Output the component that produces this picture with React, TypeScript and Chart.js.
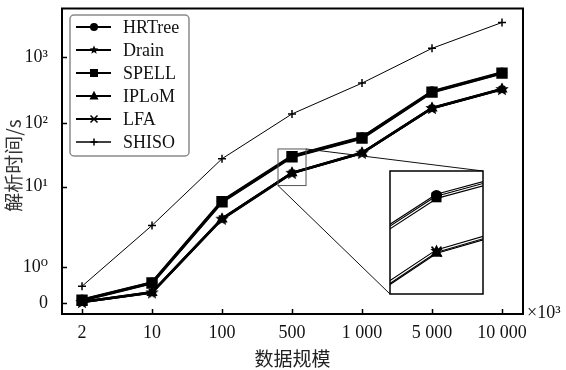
import React, { useEffect, useRef } from "react";
import { Chart, registerables } from "chart.js";

Chart.register(...registerables);

// ---------- data ----------
const categories = ["2", "10", "100", "500", "1 000", "5 000", "10 000"];
const seriesNames = ["HRTree", "Drain", "SPELL", "IPLoM", "LFA", "SHISO"];
const hrtree = [0.09, 0.57, 6.6, 30, 59, 300, 580];
const drain = [0.03, 0.3, 4.0, 16.5, 34, 169, 328];
const spell = [0.08, 0.56, 6.5, 29.4, 58, 295, 573];
const iplom = [0.03, 0.29, 3.95, 16.3, 33.6, 167, 325];
const lfa = [0.03, 0.3, 4.0, 16.4, 33.8, 168, 327];
const shiso = [0.47, 3.3, 27.4, 137, 404, 1368, 3390];

const yTickValues = [0, 1, 10, 100, 1000];
const yTickLabels = ["0", "10⁰", "10¹", "10²", "10³"];
// broken axis: position of each tick value in axis units
const yTickPos = [0, 0.554, 1.8, 2.785, 3.8];
const xUnitLabel = "×10³";
const xTitle = "数据规模";
const yTitle = "解析时间/s  ";
// zoomed region (category index range, value range)
const insetXRange = [2.8, 3.2];
const insetYRange = [10.4, 39];

const SERIF = "'Liberation Serif', 'Times New Roman', 'DejaVu Serif', serif";
const CJK = "'Noto Sans CJK SC', 'Liberation Serif', serif";

function toUnit(v: number): number {
  if (v <= 1) return v * yTickPos[1];
  let i = 1;
  while (i < yTickValues.length - 2 && v > yTickValues[i + 1]) i++;
  const a = Math.log10(yTickValues[i]);
  const b = Math.log10(yTickValues[i + 1]);
  return yTickPos[i] + ((Math.log10(v) - a) / (b - a)) * (yTickPos[i + 1] - yTickPos[i]);
}

function starPath(ctx: CanvasRenderingContext2D, x: number, y: number, R: number, r: number) {
  for (let k = 0; k < 10; k++) {
    const rad = k % 2 === 0 ? R : r;
    const ang = -Math.PI / 2 + (k * Math.PI) / 5;
    const px = x + rad * Math.cos(ang);
    const py = y + rad * Math.sin(ang);
    if (k === 0) ctx.moveTo(px, py);
    else ctx.lineTo(px, py);
  }
  ctx.closePath();
}

function makeStarCanvas(R: number) {
  const c = document.createElement("canvas");
  const size = Math.ceil(2 * R + 2);
  c.width = size;
  c.height = size;
  const ctx = c.getContext("2d")!;
  ctx.fillStyle = "#000";
  ctx.beginPath();
  starPath(ctx, size / 2, size / 2 + 0.5, R, R * 0.45);
  ctx.fill();
  return c;
}

function drawMarker(ctx: CanvasRenderingContext2D, kind: string, x: number, y: number, s: number) {
  ctx.save();
  ctx.fillStyle = "#000";
  ctx.strokeStyle = "#000";
  ctx.lineWidth = 1.5;
  ctx.beginPath();
  switch (kind) {
    case "circle":
      ctx.arc(x, y, s, 0, Math.PI * 2);
      ctx.fill();
      break;
    case "rect":
      ctx.fillRect(x - s, y - s, 2 * s, 2 * s);
      break;
    case "triangle":
      ctx.moveTo(x, y - s * 1.15);
      ctx.lineTo(x + s, y + s * 0.75);
      ctx.lineTo(x - s, y + s * 0.75);
      ctx.closePath();
      ctx.fill();
      break;
    case "star":
      starPath(ctx, x, y, s, s * 0.45);
      ctx.fill();
      break;
    case "crossRot":
      ctx.moveTo(x - s, y - s);
      ctx.lineTo(x + s, y + s);
      ctx.moveTo(x + s, y - s);
      ctx.lineTo(x - s, y + s);
      ctx.stroke();
      break;
    case "cross":
      ctx.moveTo(x - s, y);
      ctx.lineTo(x + s, y);
      ctx.moveTo(x, y - s);
      ctx.lineTo(x, y + s);
      ctx.stroke();
      break;
  }
  ctx.restore();
}

const seriesValues = [hrtree, drain, spell, iplom, lfa, shiso];
const markerKinds = ["circle", "star", "rect", "triangle", "crossRot", "cross"];
const lineWidths = [3, 2.5, 3, 2.5, 2.5, 1];
const pointRadii = [4.5, 6, 7, 5, 4.5, 4];
const drawOrder = [2, 1, 0, 3, 4, 5];
const legendMarkerSize = [4, 4.5, 4, 4.5, 3.5, 3.5];
const insetMarkerSize = [5.5, 6.5, 5, 6, 5, 4];

const decorPlugin = {
  id: "decor",
  afterDraw(chart: any) {
    const ctx: CanvasRenderingContext2D = chart.ctx;
    const area = chart.chartArea;
    const xs = chart.scales.x;
    const ys = chart.scales.y;
    ctx.save();

    // frame
    ctx.strokeStyle = "#000";
    ctx.lineWidth = 2;
    ctx.strokeRect(area.left, area.top, area.right - area.left, area.bottom - area.top);

    // inward ticks
    ctx.lineWidth = 1.5;
    ctx.beginPath();
    categories.forEach((_, i) => {
      const px = Math.round(xs.getPixelForValue(i)) + 0.5;
      ctx.moveTo(px, area.bottom);
      ctx.lineTo(px, area.bottom - 5);
    });
    yTickPos.forEach((u) => {
      const py = Math.round(ys.getPixelForValue(u)) + 0.5;
      ctx.moveTo(area.left, py);
      ctx.lineTo(area.left + 5, py);
    });
    ctx.stroke();

    // unit label
    ctx.fillStyle = "#111";
    ctx.font = `18px ${SERIF}`;
    ctx.textAlign = "left";
    ctx.textBaseline = "middle";
    ctx.fillText(xUnitLabel, area.right + 4, area.bottom - 1);

    // zoom rectangle + inset
    const sx0 = xs.getPixelForValue(insetXRange[0]);
    const sx1 = xs.getPixelForValue(insetXRange[1]);
    const sy0 = ys.getPixelForValue(toUnit(insetYRange[1]));
    const sy1 = ys.getPixelForValue(toUnit(insetYRange[0]));
    const bx0 = 390, by0 = 171, bx1 = 483, by1 = 294;
    const kx = (bx1 - bx0) / (sx1 - sx0);
    const ky = (by1 - by0) / (sy1 - sy0);
    const mapX = (p: number) => bx0 + (p - sx0) * kx;
    const mapY = (p: number) => by0 + (p - sy0) * ky;

    ctx.strokeStyle = "#555";
    ctx.lineWidth = 1;
    ctx.strokeRect(sx0, sy0, sx1 - sx0, sy1 - sy0);
    ctx.strokeStyle = "#111";
    ctx.beginPath();
    ctx.moveTo(sx0, sy1);
    ctx.lineTo(bx0, by1);
    ctx.moveTo(sx1, sy0);
    ctx.lineTo(bx1, by0);
    ctx.stroke();

    ctx.fillStyle = "#fff";
    ctx.fillRect(bx0, by0, bx1 - bx0, by1 - by0);
    ctx.save();
    ctx.beginPath();
    ctx.rect(bx0, by0, bx1 - bx0, by1 - by0);
    ctx.clip();
    const order = [5, 4, 3, 0, 2, 1];
    order.forEach((di) => {
      const meta = chart.getDatasetMeta(di);
      const pts = meta.data.map((el: any) => [mapX(el.x), mapY(el.y)]);
      ctx.lineJoin = "round";
      [[3.4, "#000"], [1.2, "#fff"]].forEach(([w, c]) => {
        ctx.lineWidth = w as number;
        ctx.strokeStyle = c as string;
        ctx.beginPath();
        pts.forEach((p: number[], k: number) => (k === 0 ? ctx.moveTo(p[0], p[1]) : ctx.lineTo(p[0], p[1])));
        ctx.stroke();
      });
    });
    order.forEach((di) => {
      const meta = chart.getDatasetMeta(di);
      meta.data.forEach((el: any) => {
        drawMarker(ctx, markerKinds[di], mapX(el.x), mapY(el.y), insetMarkerSize[di]);
      });
    });
    ctx.restore();
    ctx.strokeStyle = "#000";
    ctx.lineWidth = 1.5;
    ctx.strokeRect(bx0, by0, bx1 - bx0, by1 - by0);

    // legend
    const lx0 = 70, ly0 = 15, lx1 = 189, ly1 = 156;
    ctx.fillStyle = "#fff";
    ctx.strokeStyle = "#8a8a8a";
    ctx.lineWidth = 1.5;
    ctx.beginPath();
    (ctx as any).roundRect(lx0, ly0, lx1 - lx0, ly1 - ly0, 4);
    ctx.fill();
    ctx.stroke();
    chart.data.datasets.forEach((ds: any, i: number) => {
      const y = 27 + i * 23;
      ctx.strokeStyle = "#000";
      ctx.lineWidth = i === 5 ? 1.3 : 2;
      ctx.beginPath();
      ctx.moveTo(76, y);
      ctx.lineTo(111, y);
      ctx.stroke();
      drawMarker(ctx, markerKinds[i], 94, y, legendMarkerSize[i]);
      ctx.fillStyle = "#111";
      ctx.font = `18px ${SERIF}`;
      ctx.textAlign = "left";
      ctx.textBaseline = "middle";
      ctx.fillText(ds.label, 123, y + 1);
    });

    ctx.restore();
  },
};

export default function App() {
  const ref = useRef<HTMLCanvasElement>(null);
  useEffect(() => {
    document.body.style.margin = "0";
    const canvas = ref.current!;
    const star = makeStarCanvas(7);
    const datasets = seriesNames.map((name, i) => ({
      label: name,
      data: seriesValues[i].map((v, k) => ({ x: k, y: toUnit(v) })),
      borderColor: "#000",
      backgroundColor: "#000",
      borderWidth: lineWidths[i],
      pointStyle: markerKinds[i] === "star" ? (star as any) : markerKinds[i],
      pointRadius: pointRadii[i],
      pointBackgroundColor: "#000",
      pointBorderColor: "#000",
      pointBorderWidth: 1.5,
      tension: 0,
      fill: false,
      order: drawOrder[i],
    }));

    const chart = new Chart(canvas, {
      type: "line",
      data: { datasets } as any,
      plugins: [decorPlugin],
      options: {
        responsive: false,
        animation: false,
        devicePixelRatio: 1,
        events: [],
        layout: { padding: { left: 0, top: 7, right: 43, bottom: 0 } },
        plugins: { legend: { display: false }, tooltip: { enabled: false } },
        scales: {
          x: {
            type: "linear",
            min: -0.286,
            max: 6.3,
            grid: { display: false },
            border: { display: false },
            afterBuildTicks: (s: any) => {
              s.ticks = categories.map((_, i) => ({ value: i }));
            },
            afterFit: (s: any) => {
              s.height = 56;
              s.paddingLeft = 0;
              s.paddingRight = 0;
            },
            ticks: {
              autoSkip: false,
              maxRotation: 0,
              padding: 0,
              color: "#111",
              font: { family: SERIF, size: 18 },
              callback: (v: any) => categories[Math.round(Number(v))],
            },
            title: {
              display: true,
              text: xTitle,
              color: "#222",
              font: { family: CJK, size: 19, lineHeight: 1.2 },
              padding: { top: 2, bottom: 0 },
            },
          },
          y: {
            type: "linear",
            min: -0.169,
            max: 4.554,
            grid: { display: false },
            border: { display: false },
            afterBuildTicks: (s: any) => {
              s.ticks = yTickPos.map((u) => ({ value: u }));
            },
            afterFit: (s: any) => {
              s.width = 62;
              s.paddingTop = 0;
              s.paddingBottom = 0;
            },
            ticks: {
              autoSkip: false,
              padding: 6,
              color: "#111",
              font: { family: SERIF, size: 18 },
              callback: (v: any) => {
                const idx = yTickPos.findIndex((u) => Math.abs(u - Number(v)) < 1e-6);
                return idx >= 0 ? yTickLabels[idx] : "";
              },
            },
            title: {
              display: true,
              text: yTitle,
              color: "#333",
              font: { family: CJK, size: 19, lineHeight: 1.2 },
              padding: { top: 2.6, bottom: 0 },
            },
          },
        },
      } as any,
    });
    return () => chart.destroy();
  }, []);
  return <canvas ref={ref} width={566} height={370} style={{ display: "block", width: 566, height: 370 }} />;
}
